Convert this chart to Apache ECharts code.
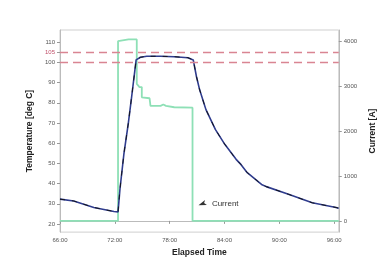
<!DOCTYPE html>
<html><head><meta charset="utf-8">
<script src="https://cdn.jsdelivr.net/npm/echarts@6/dist/echarts.min.js"></script>
<style>html,body{margin:0;padding:0;background:#fff}#c{width:385px;height:262px}</style>
</head><body><div id="c"></div>
<script>
// elapsed time in hours
const tempHours = [66, 67.5, 69.7, 71.9, 72.35, 72.56, 73.0, 73.47, 73.8, 74.33, 74.8, 75.5, 77.0, 78.5, 80.0, 80.58, 80.93, 81.28, 81.97, 83.01, 84.05, 85.27, 85.79, 86.49, 88.05, 88.57, 91.0, 93.6, 96.2, 96.5];
const tempValues = [32.3, 31.4, 28.2, 26.2, 26.0, 37.2, 55.0, 69.7, 81.5, 101.2, 102.5, 103.0, 103.0, 102.8, 102.3, 101.2, 93.0, 86.4, 76.6, 66.7, 59.3, 52.0, 49.5, 45.4, 39.6, 38.5, 34.7, 30.5, 28.2, 27.8];
const currentHours = [66, 72.35, 72.35, 73.5, 74.4, 74.4, 74.7, 74.95, 74.95, 75.8, 75.9, 77.0, 77.3, 77.6, 78.5, 80.5, 80.5, 96.5];
const currentValues = [0, 0, 4000, 4040, 4040, 3050, 2980, 2980, 2750, 2730, 2560, 2560, 2590, 2560, 2530, 2520, 0, 0];
const xTicks = [66, 72, 78, 84, 90, 96];
const tempTicks = [20, 30, 40, 50, 60, 70, 80, 90, 100, 105, 110];
const currentTicks = [0, 1000, 2000, 3000, 4000];
const limitLines = [100, 105];
const annotation = { hour: 81.15, current: 350, text: 'Current' };

const tempData = tempHours.map((h, i) => [h, tempValues[i]]);
const curData = currentHours.map((h, i) => [h, currentValues[i]]);
const lblFont = { fontFamily: 'Liberation Sans', fontSize: 6, color: '#555' };
const chart = echarts.init(document.getElementById('c'), null, { renderer: 'canvas' });
chart.setOption({
  animation: false,
  backgroundColor: '#fff',
  grid: { left: 60, right: 32, top: 30, bottom: 29, show: true, borderColor: '#cfcfcf', borderWidth: 1 },
  xAxis: {
    type: 'value', min: 66, max: 96.5,
    name: 'Elapsed Time', nameLocation: 'middle', nameGap: 14,
    nameTextStyle: { fontFamily: 'Liberation Sans', fontWeight: 'bold', fontSize: 8.5, color: '#222' },
    axisLine: { lineStyle: { color: '#bbb' } },
    axisTick: { customValues: xTicks, length: 3, lineStyle: { color: '#999' } },
    axisLabel: Object.assign({ customValues: xTicks, margin: 5, formatter: v => v + ':00' }, lblFont),
    splitLine: { show: false }
  },
  yAxis: [{
    type: 'value', min: 16, max: 116, position: 'left',
    name: 'Temperature [deg C]', nameLocation: 'middle', nameGap: 24, nameRotate: 90,
    nameTextStyle: { fontFamily: 'Liberation Sans', fontWeight: 'bold', fontSize: 8.5, color: '#222' },
    axisLine: { show: true, lineStyle: { color: '#bbb' } },
    axisTick: { show: true, customValues: tempTicks, length: 3, lineStyle: { color: '#999' } },
    axisLabel: Object.assign({}, lblFont, { customValues: tempTicks, margin: 5, formatter: v => String(v), color: v => (Number(v) === 105 ? '#c0506a' : '#555') }),
    splitLine: { show: false }
  }, {
    type: 'value', min: -250, max: 4250, position: 'right',
    name: 'Current [A]', nameLocation: 'middle', nameGap: 24, nameRotate: 90,
    nameTextStyle: { fontFamily: 'Liberation Sans', fontWeight: 'bold', fontSize: 8.5, color: '#222' },
    axisLine: { show: true, lineStyle: { color: '#bbb' } },
    axisTick: { show: true, customValues: currentTicks, length: 3, lineStyle: { color: '#999' } },
    axisLabel: Object.assign({ customValues: currentTicks, margin: 5, formatter: v => String(v) }, lblFont),
    splitLine: { show: false }
  }],
  series: [{
    type: 'line', yAxisIndex: 1, data: curData, symbol: 'none',
    lineStyle: { color: '#8ee0b6', width: 1.8 }, z: 2,
    markPoint: {
      symbol: 'arrow', symbolSize: [4, 8], symbolRotate: 110, symbolOffset: [0, 0],
      itemStyle: { color: '#333' },
      label: { show: true, position: 'right', distance: 5, formatter: annotation.text, fontFamily: 'Liberation Sans', fontSize: 8, color: '#333' },
      data: [{ coord: [annotation.hour, annotation.current] }]
    }
  }, {
    type: 'line', yAxisIndex: 0, data: tempData, symbol: 'none',
    lineStyle: { color: '#2f3c8e', width: 1.6 }, z: 3,
    markLine: {
      silent: true, symbol: 'none', label: { show: false },
      lineStyle: { color: '#d98592', width: 1.3, type: [8, 5] },
      data: limitLines.map(v => ({ yAxis: v }))
    }
  }, {
    type: 'line', yAxisIndex: 0, data: tempData, symbol: 'none',
    lineStyle: { color: '#111', width: 0.9, type: [5, 7] }, z: 4
  }]
});
</script></body></html>
